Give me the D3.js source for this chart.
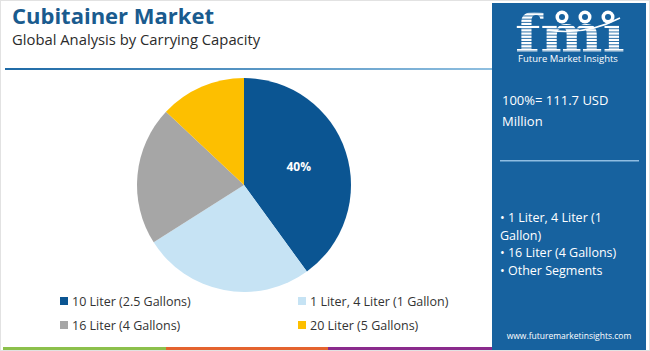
<!DOCTYPE html>
<html>
<head>
<meta charset="utf-8">
<script src="https://cdn.jsdelivr.net/npm/d3@7"></script>
<style>
  body { margin: 0; background: #fff; }
  svg { display: block; font-family: "Open Sans", "Noto Sans", sans-serif; }
</style>
</head>
<body>
<div id="chart"></div>
<script>
// segments (share of market, %)
const segments = ['10 Liter (2.5 Gallons)', '1 Liter, 4 Liter (1 Gallon)', '16 Liter (4 Gallons)', '20 Liter (5 Gallons)'];
const shares = [40, 26, 21, 13];
const colours = ['#0b5592', '#c6e3f4', '#a6a6a6', '#fdbf00'];
const panelLines = ['• 1 Liter, 4 Liter (1', 'Gallon)', '• 16 Liter (4 Gallons)', '• Other Segments'];

const width = 650, height = 351;
const svg = d3.select('#chart').append('svg')
  .attr('width', width)
  .attr('height', height);

svg.append('rect')
  .attr('x', 0.5).attr('y', 0.5)
  .attr('width', width - 1).attr('height', height - 1)
  .attr('fill', '#fff').attr('stroke', '#e2e2e2');

// title
svg.append('text')
  .attr('x', 12).attr('y', 24)
  .style('font-size', '22px').style('font-weight', 'bold')
  .attr('fill', '#1a5b8e')
  .text('Cubitainer Market');
svg.append('text')
  .attr('x', 12).attr('y', 45)
  .style('font-size', '14.8px')
  .attr('fill', '#2b2b2b')
  .text('Global Analysis by Carrying Capacity');

const defs = svg.append('defs');
const grad = defs.append('linearGradient').attr('id', 'rule');
grad.append('stop').attr('offset', '0%').attr('stop-color', '#1e6aa6');
grad.append('stop').attr('offset', '100%').attr('stop-color', '#8fbfe0');
svg.append('rect')
  .attr('x', 5).attr('y', 68).attr('width', 487).attr('height', 2)
  .attr('fill', 'url(#rule)');

// pie
const pie = d3.pie().sort(null).value(d => d);
const arc = d3.arc().innerRadius(0).outerRadius(107);
const colour = d3.scaleOrdinal().domain(segments).range(colours);
const chart = svg.append('g').attr('transform', 'translate(244,185)');
const arcs = pie(shares);

chart.selectAll('.slice')
  .data(arcs)
  .join('path')
  .attr('class', 'slice')
  .attr('d', arc)
  .attr('fill', (d, i) => colour(segments[i]));

chart.selectAll('.label')
  .data(arcs.filter(d => d.index === 0))
  .join('text')
  .attr('class', 'label')
  .attr('transform', d => `translate(${d3.arc().innerRadius(0).outerRadius(115).centroid(d)})`)
  .attr('text-anchor', 'middle')
  .attr('dy', '0.35em')
  .attr('fill', '#fff')
  .style('font-size', '12px').style('font-weight', 'bold')
  .text(d => d.data + '%');

// legend
const legend = svg.append('g');
const items = legend.selectAll('g')
  .data(segments)
  .join('g')
  .attr('transform', (d, i) => `translate(${i % 2 === 0 ? 60 : 298},${i < 2 ? 297 : 321})`);
items.append('rect')
  .attr('width', 8).attr('height', 8)
  .attr('fill', d => colour(d));
items.append('text')
  .attr('x', 12).attr('y', 8.5)
  .style('font-size', '12.5px')
  .attr('fill', '#333')
  .text(d => d);

// bottom strip
const strip = [['#8cc04b', 3, 166], ['#e4632f', 166, 328], ['#8a2a8c', 328, 492]];
svg.selectAll('.strip')
  .data(strip)
  .join('rect')
  .attr('class', 'strip')
  .attr('x', d => d[1]).attr('y', 347)
  .attr('width', d => d[2] - d[1]).attr('height', 3)
  .attr('fill', d => d[0]);

// right panel
const panel = svg.append('g');
panel.append('rect')
  .attr('x', 492).attr('y', 3).attr('width', 154).attr('height', 347)
  .attr('fill', '#17629f');

// logo
const clip = defs.append('clipPath').attr('id', 'logoclip');
clip.append('text')
  .attr('x', 515).attr('y', 52)
  .attr('textLength', 110).attr('lengthAdjust', 'spacingAndGlyphs')
  .style('font-family', '"DejaVu Serif", serif')
  .style('font-size', '52px').style('font-weight', 'bold')
  .text('fmı');
const logo = panel.append('g').attr('clip-path', 'url(#logoclip)');
d3.range(10, 56, 3.2).forEach(y => {
  logo.append('rect')
    .attr('x', 505).attr('y', y).attr('width', 130).attr('height', 2.3)
    .attr('fill', '#fff');
});
panel.append('path')
  .attr('d', 'M548,30 Q585,36 620,18')
  .attr('fill', 'none').attr('stroke', '#fff').attr('stroke-width', 1.5);
[[562, 17], [585, 17], [608, 17]].forEach(p => {
  panel.append('circle')
    .attr('cx', p[0]).attr('cy', p[1]).attr('r', 6.5)
    .attr('fill', '#fff');
  panel.append('circle')
    .attr('cx', p[0]).attr('cy', p[1]).attr('r', 3)
    .attr('fill', '#17629f');
});
panel.append('text')
  .attr('x', 568).attr('y', 62)
  .attr('text-anchor', 'middle')
  .style('font-size', '9.5px')
  .attr('fill', '#fff')
  .text('Future Market Insights');

panel.append('text')
  .attr('x', 502).attr('y', 105)
  .style('font-size', '13px')
  .attr('fill', '#fff')
  .text('100%= 111.7 USD');
panel.append('text')
  .attr('x', 502).attr('y', 126)
  .style('font-size', '13px')
  .attr('fill', '#fff')
  .text('Million');
panel.append('rect')
  .attr('x', 500).attr('y', 160).attr('width', 139).attr('height', 1.5)
  .attr('fill', '#8fbde2');

panel.selectAll('.seg')
  .data(panelLines)
  .join('text')
  .attr('class', 'seg')
  .attr('x', 500)
  .attr('y', (d, i) => 222 + i * 17.5)
  .style('font-size', '12.5px')
  .attr('fill', '#fff')
  .text(d => d);

panel.append('text')
  .attr('x', 569).attr('y', 339)
  .attr('text-anchor', 'middle')
  .style('font-size', '8.5px')
  .attr('fill', '#fff')
  .text('www.futuremarketinsights.com');
</script>
</body>
</html>
